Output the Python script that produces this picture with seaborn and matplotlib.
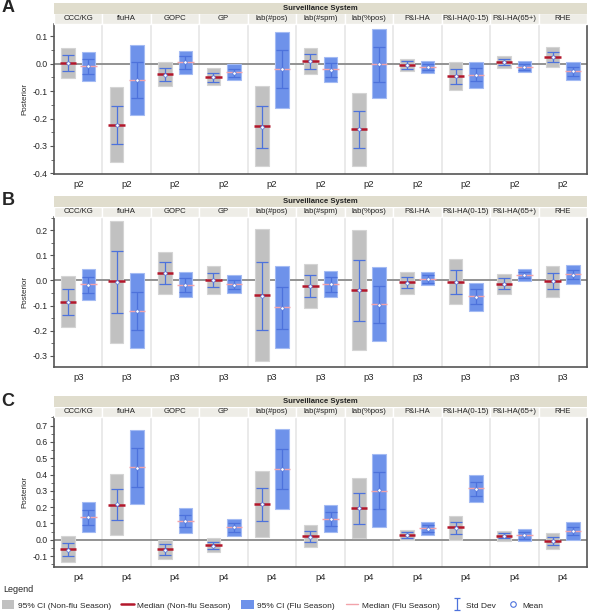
import pandas as pd
import matplotlib
matplotlib.use("Agg")
import matplotlib.pyplot as plt
import matplotlib.transforms as mtransforms
from matplotlib.patches import Rectangle, Patch
from matplotlib.lines import Line2D
from matplotlib.path import Path
from matplotlib.ticker import MultipleLocator
import seaborn as sns

systems = ["CCC/KG", "fluHA", "GOPC", "GP", "lab(#pos)", "lab(#spm)", "lab(%pos)",
           "P&I-HA", "P&I-HA(0-15)", "P&I-HA(65+)", "RHE"]

# panel A (p2)
p2_nf_lo = [-0.052, -0.357, -0.083, -0.079, -0.374, -0.039, -0.373, -0.028, -0.098, -0.017, -0.011]
p2_nf_hi = [0.057, -0.085, 0.007, -0.017, -0.080, 0.057, -0.106, 0.018, 0.006, 0.027, 0.059]
p2_nf_med = [0.003, -0.223, -0.038, -0.050, -0.227, 0.009, -0.238, -0.004, -0.045, 0.005, 0.024]
p2_nf_mean = [0.001, -0.224, -0.040, -0.050, -0.230, 0.009, -0.240, -0.005, -0.047, 0.005, 0.024]
p2_nf_sd = [0.029, 0.070, 0.024, 0.016, 0.076, 0.027, 0.068, 0.014, 0.026, 0.011, 0.019]
p2_f_lo = [-0.062, -0.187, -0.039, -0.059, -0.161, -0.066, -0.127, -0.034, -0.089, -0.030, -0.061]
p2_f_hi = [0.043, 0.068, 0.046, -0.002, 0.116, 0.023, 0.124, 0.009, 0.006, 0.011, 0.005]
p2_f_med = [-0.008, -0.059, 0.004, -0.030, -0.021, -0.021, 0.000, -0.012, -0.040, -0.011, -0.028]
p2_f_mean = [-0.010, -0.060, 0.004, -0.033, -0.020, -0.023, -0.002, -0.013, -0.040, -0.012, -0.028]
p2_f_sd = [0.027, 0.066, 0.022, 0.015, 0.070, 0.025, 0.064, 0.011, 0.025, 0.010, 0.016]

# panel B (p3)
p3_nf_lo = [-0.186, -0.248, -0.055, -0.055, -0.321, -0.108, -0.277, -0.052, -0.095, -0.053, -0.065]
p3_nf_hi = [0.016, 0.239, 0.112, 0.059, 0.206, 0.065, 0.200, 0.034, 0.085, 0.026, 0.057]
p3_nf_med = [-0.086, -0.003, 0.028, 0.003, -0.058, -0.021, -0.040, -0.008, -0.005, -0.013, -0.004]
p3_nf_mean = [-0.087, -0.005, 0.028, 0.001, -0.061, -0.022, -0.039, -0.009, -0.006, -0.013, -0.004]
p3_nf_sd = [0.051, 0.124, 0.044, 0.029, 0.136, 0.044, 0.122, 0.022, 0.047, 0.022, 0.032]
p3_f_lo = [-0.078, -0.271, -0.066, -0.049, -0.271, -0.066, -0.240, -0.018, -0.122, -0.004, -0.015]
p3_f_hi = [0.045, 0.028, 0.033, 0.021, 0.057, 0.038, 0.052, 0.032, -0.011, 0.045, 0.061]
p3_f_med = [-0.016, -0.120, -0.018, -0.015, -0.107, -0.015, -0.095, 0.007, -0.063, 0.021, 0.025]
p3_f_mean = [-0.018, -0.122, -0.018, -0.017, -0.110, -0.015, -0.096, 0.006, -0.065, 0.021, 0.023]
p3_f_sd = [0.031, 0.077, 0.029, 0.017, 0.083, 0.030, 0.075, 0.015, 0.029, 0.011, 0.019]

# panel C (p4)
p4_nf_lo = [-0.134, 0.029, -0.119, -0.078, 0.014, -0.043, 0.012, 0.000, 0.000, -0.008, -0.056]
p4_nf_hi = [0.021, 0.405, 0.000, 0.008, 0.422, 0.088, 0.381, 0.062, 0.146, 0.053, 0.039]
p4_nf_med = [-0.058, 0.216, -0.058, -0.035, 0.220, 0.021, 0.195, 0.031, 0.076, 0.025, -0.008]
p4_nf_mean = [-0.060, 0.217, -0.060, -0.036, 0.217, 0.020, 0.193, 0.031, 0.072, 0.025, -0.010]
p4_nf_sd = [0.041, 0.096, 0.033, 0.020, 0.102, 0.034, 0.096, 0.019, 0.037, 0.017, 0.024]
p4_f_lo = [0.049, 0.222, 0.041, 0.023, 0.189, 0.049, 0.080, 0.029, 0.233, -0.010, 0.000]
p4_f_hi = [0.233, 0.673, 0.193, 0.130, 0.681, 0.212, 0.525, 0.107, 0.399, 0.066, 0.109]
p4_f_med = [0.142, 0.449, 0.117, 0.076, 0.432, 0.130, 0.302, 0.070, 0.315, 0.029, 0.056]
p4_f_mean = [0.138, 0.443, 0.116, 0.076, 0.434, 0.129, 0.303, 0.069, 0.313, 0.028, 0.055]
p4_f_sd = [0.047, 0.118, 0.036, 0.027, 0.125, 0.043, 0.114, 0.022, 0.043, 0.022, 0.026]

gray_ci = "#c1c1c1"
blue_ci = "#6e92ea"
blue_edge = "#a4bbf3"
med_nf = "#b3172b"
med_f = "#f2a3aa"
sd_col = "#4d72dc"

sns.set_style("white")
plt.rcParams["font.family"] = ["Liberation Sans", "DejaVu Sans"]
plt.rcParams["axes.unicode_minus"] = False

rows = []
for param, season, lo, hi, med, mean, sd in [
    ("p2", "nf", p2_nf_lo, p2_nf_hi, p2_nf_med, p2_nf_mean, p2_nf_sd),
    ("p2", "f", p2_f_lo, p2_f_hi, p2_f_med, p2_f_mean, p2_f_sd),
    ("p3", "nf", p3_nf_lo, p3_nf_hi, p3_nf_med, p3_nf_mean, p3_nf_sd),
    ("p3", "f", p3_f_lo, p3_f_hi, p3_f_med, p3_f_mean, p3_f_sd),
    ("p4", "nf", p4_nf_lo, p4_nf_hi, p4_nf_med, p4_nf_mean, p4_nf_sd),
    ("p4", "f", p4_f_lo, p4_f_hi, p4_f_med, p4_f_mean, p4_f_sd),
]:
    for i, s in enumerate(systems):
        rows.append(dict(param=param, season=season, system=s, idx=i,
                         lo=lo[i], hi=hi[i], med=med[i], mean=mean[i], sd=sd[i]))
df = pd.DataFrame(rows)
df["x"] = df["idx"] + df["season"].map({"nf": -0.21, "f": 0.21})

fig = plt.figure(figsize=(6, 6.12), dpi=100)

panels = [
    ("A", "p2", 24, (-0.402, 0.144)),
    ("B", "p3", 217, (-0.345, 0.253)),
    ("C", "p4", 417, (-0.167, 0.753)),
]
left, right = 54 / 600, 587 / 600
h = 150 / 612
band = 10.5 / 150
bw = 0.28

for letter, param, top_px, ylim in panels:
    ax = fig.add_axes([left, 1 - top_px / 612 - h, right - left, h])
    sub = df[df["param"] == param]
    ax.set_xlim(-0.5, len(systems) - 0.5)
    ax.set_ylim(*ylim)

    for i in range(1, len(systems)):
        ax.axvline(i - 0.5, color="#e6e6e6", lw=1.2, zorder=0)
    ax.axhline(0, color="#8a8a8a", lw=1.3, zorder=1)

    nf = sub[sub["season"] == "nf"]
    fl = sub[sub["season"] == "f"]
    ax.bar(nf["x"], nf["hi"] - nf["lo"], bottom=nf["lo"], width=bw,
           color=gray_ci, edgecolor="#d4d4d4", lw=0.8, zorder=2)
    ax.bar(fl["x"], fl["hi"] - fl["lo"], bottom=fl["lo"], width=bw,
           color=blue_ci, edgecolor=blue_edge, lw=0.8, zorder=2)
    ax.hlines(nf["med"], nf["x"] - 0.17, nf["x"] + 0.17, color=med_nf, lw=1.8, zorder=4)
    ax.hlines(fl["med"], fl["x"] - 0.17, fl["x"] + 0.17, color=med_f, lw=1.0, zorder=4)
    ax.errorbar(sub["x"], sub["mean"], yerr=sub["sd"], fmt="none", ecolor=sd_col,
                elinewidth=0.9, capsize=4, capthick=0.9, zorder=5)
    sns.scatterplot(data=sub, x="x", y="mean", ax=ax, marker="o", s=6,
                    facecolor="white", edgecolor=sd_col, linewidth=0.5,
                    legend=False, zorder=6)

    ax.yaxis.set_major_locator(MultipleLocator(0.1))
    ax.yaxis.set_minor_locator(MultipleLocator(0.05))
    ax.tick_params(axis="y", which="major", length=3, labelsize=6.3, left=True,
                   color="#555555", pad=1.5)
    ax.tick_params(axis="y", which="minor", length=2, left=True, color="#555555")
    ax.set_xticks(range(len(systems)))
    ax.set_xticklabels([param] * len(systems), fontsize=6.8)
    ax.tick_params(axis="x", length=0, pad=4)
    ax.set_xlabel("")
    ax.set_ylabel("Posterior", fontsize=5.8, labelpad=3)
    for sp in ["left", "bottom", "right"]:
        ax.spines[sp].set_color("#555555")
        ax.spines[sp].set_linewidth(1.2)
    ax.spines["top"].set_visible(False)

    # header bands
    trans = mtransforms.blended_transform_factory(ax.transData, ax.transAxes)
    for i, s in enumerate(systems):
        ax.add_patch(Rectangle((i - 0.5, 1), 1, band, transform=trans,
                               facecolor="#eeede7", edgecolor="white", lw=1.0,
                               clip_on=False, zorder=3))
        ax.text(i, 1 + band / 2, s, transform=trans, ha="center", va="center",
                fontsize=5.6, color="#222222", clip_on=False)
    ax.add_patch(Rectangle((0, 1 + band), 1, band, transform=ax.transAxes,
                           facecolor="#e0ddcd", edgecolor="none",
                           clip_on=False, zorder=3))
    ax.text(0.5, 1 + band * 1.5, "Surveillance System", transform=ax.transAxes,
            ha="center", va="center", fontsize=5.5, fontweight="bold",
            color="#222222", clip_on=False)

    fig.text(8 / 600, 1 - (top_px - 16) / 612, letter, fontsize=13,
             fontweight="bold", ha="center", va="center")

# legend marker for std dev: vertical bar with caps
sd_marker = Path([(-0.5, 1), (0.5, 1), (0, 1), (0, -1), (-0.5, -1), (0.5, -1)],
                 [Path.MOVETO, Path.LINETO, Path.MOVETO, Path.LINETO, Path.MOVETO, Path.LINETO])

fig.text(3 / 600, 1 - 590 / 612, "Legend", fontsize=6.5, ha="left", va="center")
handles = [
    Patch(facecolor=gray_ci, edgecolor="none"),
    Line2D([], [], color=med_nf, lw=1.8),
    Patch(facecolor=blue_ci, edgecolor="none"),
    Line2D([], [], color=med_f, lw=1.0),
    Line2D([], [], color=sd_col, marker=sd_marker, ls="none", markersize=9,
           markeredgewidth=0.9, fillstyle="none"),
    Line2D([], [], color=sd_col, marker="o", ls="none", markersize=4,
           markerfacecolor="white", markeredgewidth=0.8),
]
labels = ["95% CI (Non-flu Season)", "Median (Non-flu Season)", "95% CI (Flu Season)",
          "Median (Flu Season)", "Std Dev", "Mean"]
fig.legend(handles, labels, loc="center left", bbox_to_anchor=(0, 1 - 605 / 612),
           ncol=6, frameon=False, fontsize=6.0, handlelength=1.5, handleheight=1.2,
           handletextpad=0.4, columnspacing=1.3, borderaxespad=0, borderpad=0.2)

fig.savefig("out.png", dpi=100)
